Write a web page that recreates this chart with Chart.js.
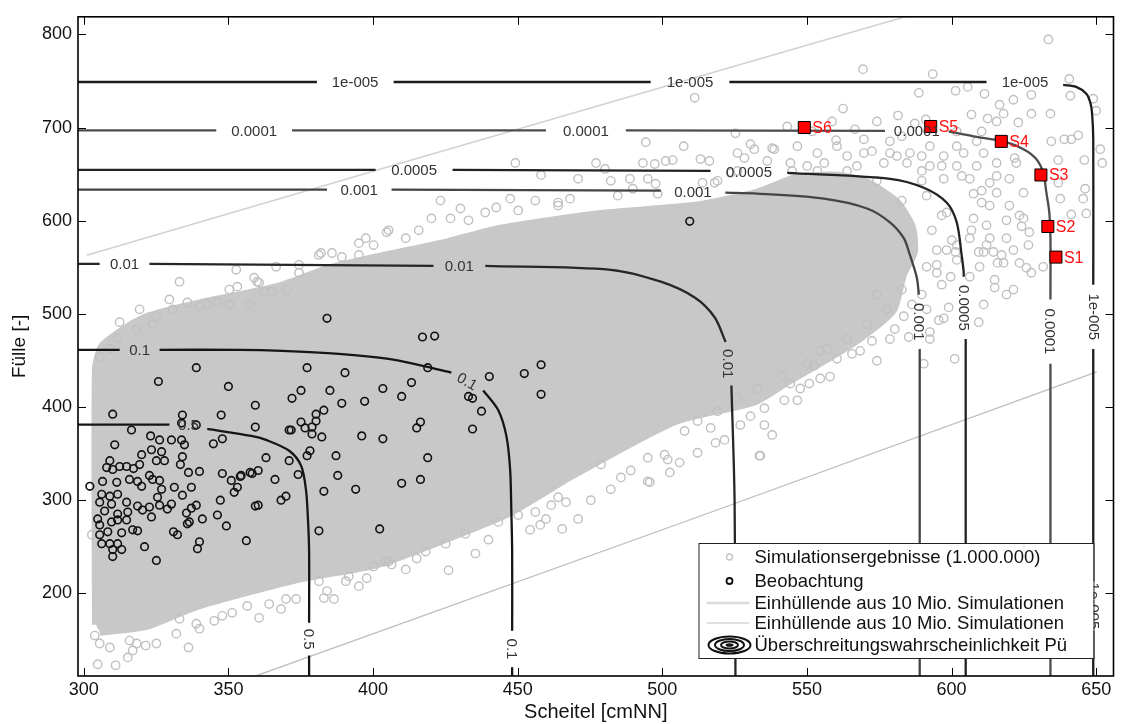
<!DOCTYPE html>
<html>
<head>
<meta charset="utf-8">
<script src="https://cdn.jsdelivr.net/npm/chart.js@4.4.1/dist/chart.umd.min.js"></script>
<style>
  html, body { margin: 0; padding: 0; background: #fff; }
  #wrap { width: 1123px; height: 724px; }
</style>
</head>
<body>
<div id="wrap"><canvas id="chart" width="1123" height="724"></canvas></div>
<script>
// --------------------
// Data (Scheitel [cmNN] / Fülle [-])
// --------------------
const xTickValues = [300, 350, 400, 450, 500, 550, 600, 650];
const yTickValues = [200, 300, 400, 500, 600, 700, 800];

// outline of the dense part of the simulation cloud
const cloudOutline = [
  [304.2, 166.0], [304.2, 441.1], [306.5, 465.6], [315.8, 486.9], [322.7, 497.5], [340.0, 511.3],
  [367.5, 529.3], [384.7, 548.5], [402.0, 561.2], [426.1, 577.1], [443.3, 590.9], [477.8, 606.9],
  [512.2, 616.4], [532.9, 630.2], [546.7, 646.1], [560.4, 648.3], [570.8, 640.8], [581.1, 619.6],
  [586.3, 593.1], [587.0, 566.5], [583.2, 542.0], [579.7, 503.7], [566.3, 469.6], [543.3, 427.1],
  [531.9, 405.9], [504.3, 384.7], [469.9, 328.4], [446.8, 285.9], [418.2, 249.8], [401.0, 230.7],
  [373.4, 214.8], [339.0, 186.1], [321.7, 164.9], [305.5, 158.5]
];

// single simulation results outside the dense cloud
const simPoints = [
  [511.2, 732.0], [494.3, 684.3], [507.4, 680.0], [449.2, 662.0], [458.1, 649.2], [470.9, 645.0],
  [477.1, 662.0], [493.3, 662.0], [497.4, 660.9], [501.2, 664.1], [503.6, 665.1], [513.2, 666.2],
  [516.3, 664.1], [525.3, 693.8], [530.5, 682.1], [526.0, 672.6], [531.8, 676.8], [538.0, 677.9],
  [423.3, 621.6], [405.4, 589.7], [411.3, 581.2], [420.2, 602.5], [426.8, 602.5], [430.2, 613.1],
  [438.8, 608.9], [442.6, 614.2], [447.4, 623.7], [456.1, 621.6], [464.0, 619.5], [468.1, 623.7],
  [480.2, 655.6], [482.2, 642.8], [488.8, 645.0], [489.8, 634.3], [495.0, 645.0], [497.7, 639.7],
  [513.9, 640.7], [518.1, 640.7], [523.6, 651.3], [528.4, 667.3], [536.3, 664.1],
  [633.5, 794.7], [569.4, 762.8], [593.5, 757.5], [640.7, 752.2], [605.6, 743.7], [588.7, 737.3],
  [601.4, 739.5], [611.4, 736.3], [621.4, 729.9], [627.6, 735.2], [641.1, 734.2], [649.0, 731.0],
  [562.5, 720.4], [616.6, 724.6], [618.0, 715.0], [627.6, 715.0], [634.2, 715.0], [650.0, 718.2],
  [581.5, 712.9], [587.3, 704.4], [591.1, 708.7], [606.9, 714.0], [612.5, 709.7], [623.1, 705.5],
  [641.4, 687.4], [643.8, 691.7], [634.5, 685.3], [639.0, 687.4], [651.4, 676.8], [645.9, 665.1],
  [636.9, 665.1], [621.8, 667.3], [566.6, 698.1], [569.7, 687.4], [578.7, 685.3], [560.1, 686.4],
  [652.1, 662.0], [637.6, 623.7], [645.5, 623.7], [636.9, 640.7], [646.2, 634.3], [641.4, 606.7],
  [646.6, 607.8], [623.5, 605.7], [624.2, 594.0], [626.6, 573.8], [610.4, 619.5], [607.6, 629.0],
  [613.2, 640.7], [615.6, 648.1], [598.3, 608.9], [612.1, 595.0],
  [538.7, 676.8], [546.7, 680.0], [553.6, 672.6], [560.4, 680.0], [569.7, 672.6], [578.7, 672.6],
  [585.6, 672.6], [592.5, 680.0], [597.3, 669.4], [604.2, 672.6], [611.1, 672.6], [544.3, 662.0],
  [556.0, 662.0], [567.3, 658.8], [576.6, 662.0], [584.6, 662.0], [592.5, 658.8], [601.8, 658.8],
  [608.7, 658.8], [615.6, 662.0], [622.4, 662.0], [597.3, 645.0], [606.3, 645.0], [615.6, 630.1],
  [620.0, 645.0], [624.9, 630.1], [613.2, 616.3], [620.0, 616.3], [624.9, 602.5], [607.6, 602.5],
  [613.2, 581.2], [619.0, 581.2], [626.9, 587.6], [606.3, 581.2], [611.1, 566.4], [601.8, 573.8],
  [591.4, 626.9], [596.6, 605.7], [593.2, 589.7], [598.3, 568.5], [589.7, 642.8], [574.2, 642.8],
  [563.9, 653.5], [553.6, 653.5], [582.8, 621.6], [594.9, 552.6],
  [589.7, 669.4], [596.6, 658.8], [603.5, 648.1], [610.4, 632.2], [619.0, 600.4], [606.9, 589.7],
  [600.1, 579.1], [594.9, 568.5], [612.1, 573.8], [617.3, 563.2], [601.8, 557.9], [591.4, 550.5],
  [596.6, 531.3], [589.7, 520.7], [586.3, 510.1], [591.4, 504.8], [543.2, 701.2], [551.8, 695.9],
  [558.7, 706.6], [574.2, 706.6], [582.8, 690.6], [601.8, 695.9], [610.4, 695.9], [615.6, 706.6],
  [544.9, 653.5], [550.1, 658.8], [563.9, 669.4], [572.5, 674.7], [581.1, 669.4], [589.7, 653.5],
  [601.8, 680.0], [608.7, 685.3], [574.2, 520.7], [577.7, 504.8], [570.8, 488.9], [563.9, 472.9],
  [557.0, 462.3], [550.1, 446.4], [541.5, 433.6], [532.9, 419.8], [526.0, 409.2], [519.1, 395.4],
  [512.2, 384.8], [582.8, 526.0],
  [611.1, 510.1], [599.0, 506.9], [609.4, 491.0], [601.1, 451.7], [592.5, 472.9], [595.6, 493.1],
  [597.3, 495.2], [590.4, 446.4], [621.4, 526.0], [619.0, 520.7], [614.9, 528.2], [627.6, 544.1],
  [631.7, 550.5], [615.9, 554.7], [609.7, 550.5], [614.9, 536.6], [606.3, 539.8], [599.7, 539.8],
  [594.9, 544.1], [601.4, 566.4], [609.4, 566.4], [614.5, 566.4], [618.0, 554.7], [623.5, 554.7],
  [625.9, 549.4], [621.4, 568.5], [538.0, 369.9], [535.3, 380.5], [533.9, 347.6], [542.2, 407.1],
  [547.7, 419.8], [550.8, 425.1], [554.6, 430.5], [558.0, 432.6], [560.4, 451.7], [565.6, 457.0],
  [568.4, 460.2], [572.5, 470.8], [574.2, 449.6], [578.7, 472.9], [580.4, 483.6], [583.5, 497.4],
  [585.2, 475.1], [592.5, 480.4], [546.7, 407.1], [544.3, 425.1], [552.5, 444.3], [554.6, 460.2],
  [533.6, 347.6], [518.4, 361.4], [512.2, 350.8], [506.0, 340.2], [502.6, 329.6], [501.9, 343.4],
  [495.0, 320.0], [489.1, 331.7], [485.7, 324.3], [482.2, 311.5], [478.8, 338.1], [507.7, 374.2],
  [516.7, 377.4], [521.5, 364.6], [527.0, 380.5], [530.5, 390.1], [535.3, 398.6], [500.8, 348.7],
  [475.3, 299.8], [495.7, 319.0], [470.9, 279.7], [465.4, 269.0], [454.3, 268.0], [461.6, 294.5],
  [466.7, 297.7], [459.8, 279.7], [457.8, 273.3], [435.4, 242.5], [426.1, 224.5], [411.3, 225.5],
  [439.9, 257.4], [450.2, 283.9], [415.1, 237.2], [418.2, 244.6], [425.1, 253.1], [431.9, 263.7],
  [405.4, 234.0], [456.1, 287.1],
  [304.8, 123.6], [311.0, 122.5], [315.2, 131.0], [316.9, 138.4], [321.4, 143.7], [325.1, 145.9],
  [336.2, 141.6], [340.0, 161.8], [345.1, 170.3], [347.9, 175.6], [338.9, 167.1], [332.0, 156.5],
  [309.0, 141.6], [305.5, 145.9], [303.8, 154.4], [318.3, 145.9], [360.6, 173.5], [368.2, 183.0],
  [364.1, 188.3], [369.9, 193.7], [373.4, 193.7], [356.5, 186.2], [351.3, 178.8], [383.0, 194.7],
  [386.5, 193.7], [384.1, 202.2], [390.6, 212.8], [395.1, 207.5], [397.8, 216.0], [400.2, 228.7],
  [404.4, 234.0], [406.4, 230.8], [381.3, 212.8], [302.8, 262.7],
  [333.1, 534.5], [335.8, 512.2], [330.7, 504.8], [340.0, 508.0], [318.3, 483.6], [311.7, 474.0],
  [325.1, 497.4], [323.8, 488.9], [342.7, 510.1], [346.2, 512.2], [350.3, 510.1], [353.1, 529.2],
  [352.7, 547.3], [358.9, 538.8], [359.9, 534.5], [362.4, 523.9], [365.1, 523.9], [370.3, 526.0],
  [374.4, 552.6], [381.3, 563.2], [389.2, 561.1], [366.5, 550.5], [357.2, 510.1], [309.0, 462.3],
  [305.5, 453.8], [404.7, 587.6], [395.1, 575.9], [397.5, 581.2], [400.2, 573.8], [385.8, 565.3],
  [382.0, 565.3],
  [415.8, 589.7], [433.0, 600.4], [450.2, 611.0], [464.0, 616.3], [484.6, 626.9], [498.4, 629.0],
  [519.1, 642.8], [526.0, 653.5], [395.1, 563.2], [374.4, 544.1], [360.6, 533.5], [350.3, 526.0],
  [329.6, 515.4], [319.3, 504.8], [312.4, 491.0], [495.0, 345.5], [464.0, 303.0], [443.3, 276.5],
  [391.6, 218.1], [333.1, 172.4], [315.8, 149.0]
];

// observed events (Beobachtung)
const obsPoints = [
  [384.1, 495.2], [417.1, 475.1], [421.3, 476.1], [377.2, 442.1], [390.3, 436.8], [418.9, 442.1],
  [413.3, 426.2], [403.4, 419.8], [409.9, 411.3], [375.1, 417.7], [372.0, 409.2], [385.1, 417.7],
  [389.2, 403.9], [397.1, 406.0], [359.3, 401.8], [383.0, 396.5], [380.3, 392.2], [380.3, 384.8],
  [375.1, 383.7], [376.5, 377.4], [378.9, 378.4], [378.9, 371.0], [382.3, 367.8], [371.0, 375.2],
  [359.3, 378.4], [396.1, 368.9], [403.4, 365.7], [416.4, 383.7], [415.1, 377.4], [440.2, 432.6],
  [452.3, 435.8], [458.1, 445.3], [458.1, 413.5], [433.0, 411.3], [434.4, 409.2], [437.5, 395.4],
  [434.4, 376.3], [378.2, 352.9], [377.2, 347.6], [387.2, 347.6], [363.0, 345.5], [371.0, 342.3],
  [374.1, 327.4], [360.3, 331.7], [358.2, 328.5], [354.4, 326.4], [366.1, 322.1], [387.8, 326.4],
  [418.9, 345.5], [416.4, 322.1], [409.9, 317.9], [394.0, 311.5], [383.0, 309.4], [369.9, 304.1],
  [368.2, 299.8], [360.3, 294.5], [359.3, 293.5], [381.3, 266.9], [402.3, 269.0], [356.2, 256.3],
  [338.9, 442.1], [325.8, 427.3], [350.0, 422.0], [334.1, 391.2], [347.5, 391.2], [371.7, 375.2],
  [310.0, 392.2], [316.5, 375.2], [310.7, 359.3], [323.1, 368.9], [326.2, 364.6], [330.3, 364.6],
  [333.8, 364.6], [334.8, 359.3], [344.8, 360.4], [347.9, 365.7], [326.9, 351.9], [323.4, 354.0],
  [320.0, 348.7], [309.0, 342.3], [307.9, 334.9], [310.0, 332.8], [312.4, 336.0], [314.8, 336.0],
  [317.2, 333.8], [319.3, 338.1], [325.1, 342.3], [327.9, 342.3], [334.1, 346.6], [333.4, 338.1],
  [336.2, 329.6], [340.0, 330.7], [347.9, 328.5], [351.0, 321.1], [354.1, 325.3], [353.1, 313.7],
  [352.0, 308.3], [357.5, 329.6], [302.1, 314.7], [306.5, 320.0], [311.4, 319.0], [315.8, 322.1],
  [318.6, 320.0], [322.7, 326.4], [323.8, 322.1], [326.2, 321.1], [320.0, 314.7], [326.9, 311.5],
  [331.3, 313.7], [337.2, 313.7], [306.2, 306.2], [309.0, 304.1], [311.7, 306.2], [305.5, 297.7],
  [309.6, 295.6], [314.8, 297.7], [318.6, 293.5], [325.5, 303.0], [326.2, 294.5], [322.7, 292.4],
  [330.3, 295.6], [334.1, 305.2], [328.9, 290.3], [307.2, 288.2], [311.7, 285.0], [315.2, 287.1],
  [320.3, 289.2], [323.4, 281.8], [335.5, 286.0], [337.2, 291.3], [338.9, 294.5], [347.2, 299.8],
  [346.2, 283.9], [341.0, 279.7], [336.5, 276.5], [304.8, 279.7], [305.5, 273.3], [309.6, 276.5],
  [311.7, 278.6], [314.8, 278.6], [316.9, 268.0], [318.6, 266.9], [313.1, 264.8], [308.3, 265.9],
  [305.5, 262.7], [306.2, 253.1], [309.0, 253.1], [311.7, 253.1], [310.0, 246.8], [313.1, 246.8],
  [310.0, 239.3], [331.0, 265.9], [332.4, 262.7], [321.0, 249.9], [325.1, 235.1], [340.0, 255.2],
  [339.3, 247.8], [349.3, 272.2], [335.8, 274.4], [333.8, 382.6], [338.9, 380.5], [509.5, 599.3]
];

// envelopes from 10 million simulations
const upperEnvelope = [[301, 563], [408.6, 660.8], [539.2, 778.7], [584, 819]];
const lowerEnvelope = [[359, 110.5], [508.2, 277.2], [650.2, 437.6]];

// exceedance probability contours (null = gap for the inline label)
const contour1e5 = [
  [298, 749], [380.6, 749], null, [407.1, 749], [496, 749], null, [523.2, 749], [612.1, 749], null,
  [638.6, 745.8], [643.1, 743.7], [646.6, 736.3], [648.0, 726.7], [648.6, 715.0], [649.0, 687.4],
  [649.0, 531.3], null, [649.0, 462.3], [649.0, 212.8], null, [649.0, 159.7], [649.0, 111]
];
const contour1e4 = [
  [298, 697], [345.8, 697], null, [372.0, 697], [459.8, 697], null, [487.4, 697], [577.0, 696.5], null,
  [599.0, 695.9], [607.6, 690.6], [618.0, 685.3], [624.9, 676.8], [629.3, 666.2], [631.7, 651.3],
  [632.8, 630.1], [633.8, 608.9], [634.2, 581.2], [634.2, 515.4], null, [634.2, 446.4], [634.2, 111]
];
const contour5e4 = [
  [298, 654.5], [400.9, 654.5], null, [427.5, 654.5], [516.7, 653.5], null, [543.2, 651.3],
  [578.7, 645.0], [590.4, 635.4], [598.3, 619.5], [601.8, 598.2], [603.5, 563.2], [604.2, 545.1],
  [604.2, 539.8], null, [604.9, 472.9], [604.9, 111]
];
const contour1e3 = [
  [298, 633.3], [384.1, 633.3], null, [406.4, 633.3], [499.5, 632.2], null, [521.8, 630.1],
  [532.9, 629.0], [555.9, 623.7], [570.8, 613.1], [578.7, 598.2], [583.5, 581.2], [585.6, 563.2],
  [588.0, 538.8], [588.7, 520.7], null, [589.0, 462.3], [589.0, 111]
];
const contour1e2 = [
  [298, 553.6], [305.5, 553.6], null, [322.7, 553.6], [420.9, 551.5], null, [438.8, 551.5],
  [482.2, 547.3], [499.5, 534.5], [511.2, 517.5], [518.1, 496.3], [521.9, 469.7], null,
  [523.9, 423.0], [525.0, 300], [525.3, 111]
];
const contour1e1 = [
  [298, 461.3], [312.4, 461.3], null, [326.2, 461.3], [353.7, 461.3], [368.6, 460.2], [388.2, 457.0],
  [405.4, 451.7], [416.8, 444.3], [427.1, 436.8], null, [438.1, 417.7], [443.3, 396.5], [446.1, 368.9],
  [447.4, 332.8], [447.8, 290.3], [448.1, 244.6], [448.1, 159.7], null, [448.1, 120.4], [448.1, 111]
];
const contour5e1 = [
  [298, 380.9], [329.6, 380.9], null, [342.7, 376.3], [357.9, 368.9], [363.0, 364.6], [371.0, 352.9],
  [375.1, 337.0], [376.8, 311.5], [377.5, 279.7], [377.9, 244.6], [377.9, 168.2], null,
  [377.9, 133.1], [377.9, 111]
];

// inline contour labels: text, position, rotation (deg)
const contourLabels = [
  ['1e-005', 393.8, 749, 0], ['1e-005', 509.6, 749, 0], ['1e-005', 625.4, 749, 0],
  ['1e-005', 649.3, 496.8, 90], ['1e-005', 649.3, 186.3, 90],
  ['0.0001', 358.9, 697, 0], ['0.0001', 473.6, 697, 0], ['0.0001', 588.0, 696, 0],
  ['0.0001', 634.2, 481, 90],
  ['0.0005', 414.2, 654.5, 0], ['0.0005', 530.0, 652.5, 0], ['0.0005', 604.5, 506.4, 90],
  ['0.001', 395.2, 633.3, 0], ['0.001', 510.6, 631.2, 0], ['0.001', 588.8, 491.5, 90],
  ['0.01', 314.1, 553.6, 0], ['0.01', 429.8, 551.5, 0], ['0.01', 522.9, 446.4, 90],
  ['0.1', 319.3, 461.3, 0], ['0.1', 432.6, 427.5, 30], ['0.1', 448.1, 140.0, 90],
  ['0.5', 336.2, 380.9, 0], ['0.5', 377.9, 150.6, 90]
];

// marked scenarios on the 0.0001 contour
const stationNames = ['S1', 'S2', 'S3', 'S4', 'S5', 'S6'];
const stationX = [636.1, 633.3, 630.9, 617.2, 592.8, 549.1];
const stationY = [560.9, 593.8, 649.1, 685.2, 701.2, 700.1];

const legendTexts = [
  'Simulationsergebnisse (1.000.000)',
  'Beobachtung',
  'Einhüllende aus 10 Mio. Simulationen',
  'Einhüllende aus 10 Mio. Simulationen',
  'Überschreitungswahrscheinlichkeit Pü'
];

// --------------------
// Helpers
// --------------------
const FONT = '"Liberation Sans", Arial, Helvetica, sans-serif';
const toXY = pts => pts.map(p => p ? { x: p[0], y: p[1] } : { x: null, y: null });

function contourSet(pts, color) {
  return {
    data: toXY(pts), showLine: true, pointRadius: 0, borderColor: color,
    borderWidth: 2.3, tension: 0.3, spanGaps: false, fill: false, order: 2
  };
}

// --------------------
// Overlay: frame, inward ticks, labels, legend
// --------------------
const overlay = {
  id: 'overlay',
  afterDatasetsDraw(chart) {
    const { ctx, chartArea: a, scales: { x, y } } = chart;
    ctx.save();
    ctx.beginPath();
    ctx.rect(a.left, a.top, a.right - a.left, a.bottom - a.top);
    ctx.clip();

    // contour labels
    ctx.font = '15px ' + FONT;
    ctx.fillStyle = '#333';
    ctx.textAlign = 'center';
    ctx.textBaseline = 'middle';
    contourLabels.forEach(([t, vx, vy, rot]) => {
      ctx.save();
      ctx.translate(x.getPixelForValue(vx), y.getPixelForValue(vy));
      ctx.rotate(rot * Math.PI / 180);
      ctx.fillText(t, 0, 1);
      ctx.restore();
    });

    // scenario names
    ctx.font = '16px ' + FONT;
    ctx.fillStyle = '#ff1010';
    ctx.textAlign = 'left';
    stationNames.forEach((n, i) => {
      ctx.fillText(n, x.getPixelForValue(stationX[i]) + 8, y.getPixelForValue(stationY[i]) + 1);
    });
    ctx.restore();

    // frame + ticks on all four sides
    ctx.save();
    ctx.strokeStyle = '#000';
    ctx.lineWidth = 1;
    ctx.beginPath();
    x.ticks.forEach(t => {
      const px = Math.round(x.getPixelForValue(t.value)) + 0.5;
      ctx.moveTo(px, a.bottom); ctx.lineTo(px, a.bottom - 8);
      ctx.moveTo(px, a.top); ctx.lineTo(px, a.top + 8);
    });
    y.ticks.forEach(t => {
      const py = Math.round(y.getPixelForValue(t.value)) + 0.5;
      ctx.moveTo(a.left, py); ctx.lineTo(a.left + 8, py);
      ctx.moveTo(a.right, py); ctx.lineTo(a.right - 8, py);
    });
    ctx.stroke();
    ctx.lineWidth = 1.6;
    ctx.strokeRect(a.left, a.top, a.right - a.left, a.bottom - a.top);

    // legend box
    const lx = a.right - 415, ly = a.bottom - 133, lw = 395, lh = 115;
    ctx.fillStyle = '#fff';
    ctx.fillRect(lx, ly, lw, lh);
    ctx.lineWidth = 1;
    ctx.strokeStyle = '#222';
    ctx.strokeRect(lx + 0.5, ly + 0.5, lw, lh);

    const sx = lx + 31, tx = lx + 56;
    const rows = [14, 38, 60, 80, 102];
    // symbols
    ctx.lineWidth = 1.3;
    ctx.strokeStyle = '#c4c4c4';
    ctx.beginPath(); ctx.arc(sx, ly + rows[0], 3, 0, Math.PI * 2); ctx.stroke();
    ctx.lineWidth = 1.8;
    ctx.strokeStyle = '#111';
    ctx.beginPath(); ctx.arc(sx, ly + rows[1], 3, 0, Math.PI * 2); ctx.stroke();
    ctx.lineWidth = 2.5;
    ctx.strokeStyle = '#dadada';
    ctx.beginPath(); ctx.moveTo(lx + 8, ly + rows[2]); ctx.lineTo(lx + 51, ly + rows[2]); ctx.stroke();
    ctx.lineWidth = 1.2;
    ctx.strokeStyle = '#c2c2c2';
    ctx.beginPath(); ctx.moveTo(lx + 8, ly + rows[3]); ctx.lineTo(lx + 51, ly + rows[3]); ctx.stroke();
    ctx.strokeStyle = '#111';
    ctx.lineWidth = 2;
    [[21, 8.5], [14.5, 6], [8.5, 3.5]].forEach(([rx, ry]) => {
      ctx.beginPath(); ctx.ellipse(sx, ly + rows[4], rx, ry, 0, 0, Math.PI * 2); ctx.stroke();
    });
    ctx.fillStyle = '#111';
    ctx.beginPath(); ctx.ellipse(sx, ly + rows[4], 4, 1.8, 0, 0, Math.PI * 2); ctx.fill();

    // texts
    ctx.font = '18.5px ' + FONT;
    ctx.fillStyle = '#111';
    ctx.textAlign = 'left';
    ctx.textBaseline = 'middle';
    legendTexts.forEach((t, i) => ctx.fillText(t, tx, ly + rows[i] + 1));
    ctx.restore();
  }
};

// --------------------
// Chart
// --------------------
const ctx = document.getElementById('chart').getContext('2d');
new Chart(ctx, {
  type: 'scatter',
  data: {
    datasets: [
      {
        data: toXY(cloudOutline), showLine: true, pointRadius: 0, tension: 0.2,
        borderColor: '#c8c8c8', borderWidth: 8, backgroundColor: '#c8c8c8', fill: 'shape', order: 6
      },
      {
        data: toXY(simPoints), pointRadius: 4.2, borderWidth: 1.4,
        borderColor: '#c0c0c0', backgroundColor: 'rgba(0,0,0,0)', order: 5
      },
      {
        data: toXY(upperEnvelope), showLine: true, pointRadius: 0, borderColor: '#d2d2d2',
        borderWidth: 1.6, fill: false, order: 4
      },
      {
        data: toXY(lowerEnvelope), showLine: true, pointRadius: 0, borderColor: '#bdbdbd',
        borderWidth: 1.3, fill: false, order: 4
      },
      contourSet(contour1e5, '#1c1c1c'),
      contourSet(contour1e4, '#4d4d4d'),
      contourSet(contour5e4, '#222'),
      contourSet(contour1e3, '#444'),
      contourSet(contour1e2, '#262626'),
      contourSet(contour1e1, '#151515'),
      contourSet(contour5e1, '#151515'),
      {
        data: toXY(obsPoints), pointRadius: 3.8, borderWidth: 1.6,
        borderColor: '#111', backgroundColor: 'rgba(0,0,0,0)', order: 1
      },
      {
        data: stationX.map((v, i) => ({ x: v, y: stationY[i] })), pointStyle: 'rect',
        pointRadius: 8.5, borderWidth: 1, borderColor: '#000', backgroundColor: '#ff0000', order: 0
      }
    ]
  },
  options: {
    responsive: false,
    animation: false,
    events: [],
    devicePixelRatio: 1,
    layout: { padding: { top: 9, right: 6, left: 0, bottom: 0 } },
    plugins: { legend: { display: false }, tooltip: { enabled: false } },
    scales: {
      x: {
        type: 'linear', min: 298, max: 656,
        grid: { display: false, drawTicks: false },
        border: { display: false },
        ticks: { padding: 3, color: '#111', font: { family: FONT, size: 18 } },
        afterBuildTicks: s => { s.ticks = xTickValues.map(v => ({ value: v })); },
        title: { display: true, text: 'Scheitel [cmNN]', color: '#111', padding: 0, font: { family: FONT, size: 20 } },
        afterFit: s => { s.height = 48; }
      },
      y: {
        type: 'linear', min: 111, max: 819,
        grid: { display: false, drawTicks: false },
        border: { display: false },
        ticks: { padding: 6, color: '#111', font: { family: FONT, size: 18 } },
        afterBuildTicks: s => { s.ticks = yTickValues.map(v => ({ value: v })); },
        title: { display: true, text: 'Fülle [-]', color: '#111', padding: { top: 8 }, font: { family: FONT, size: 19 } },
        afterFit: s => { s.width = 78; }
      }
    }
  },
  plugins: [overlay]
});
</script>
</body>
</html>
